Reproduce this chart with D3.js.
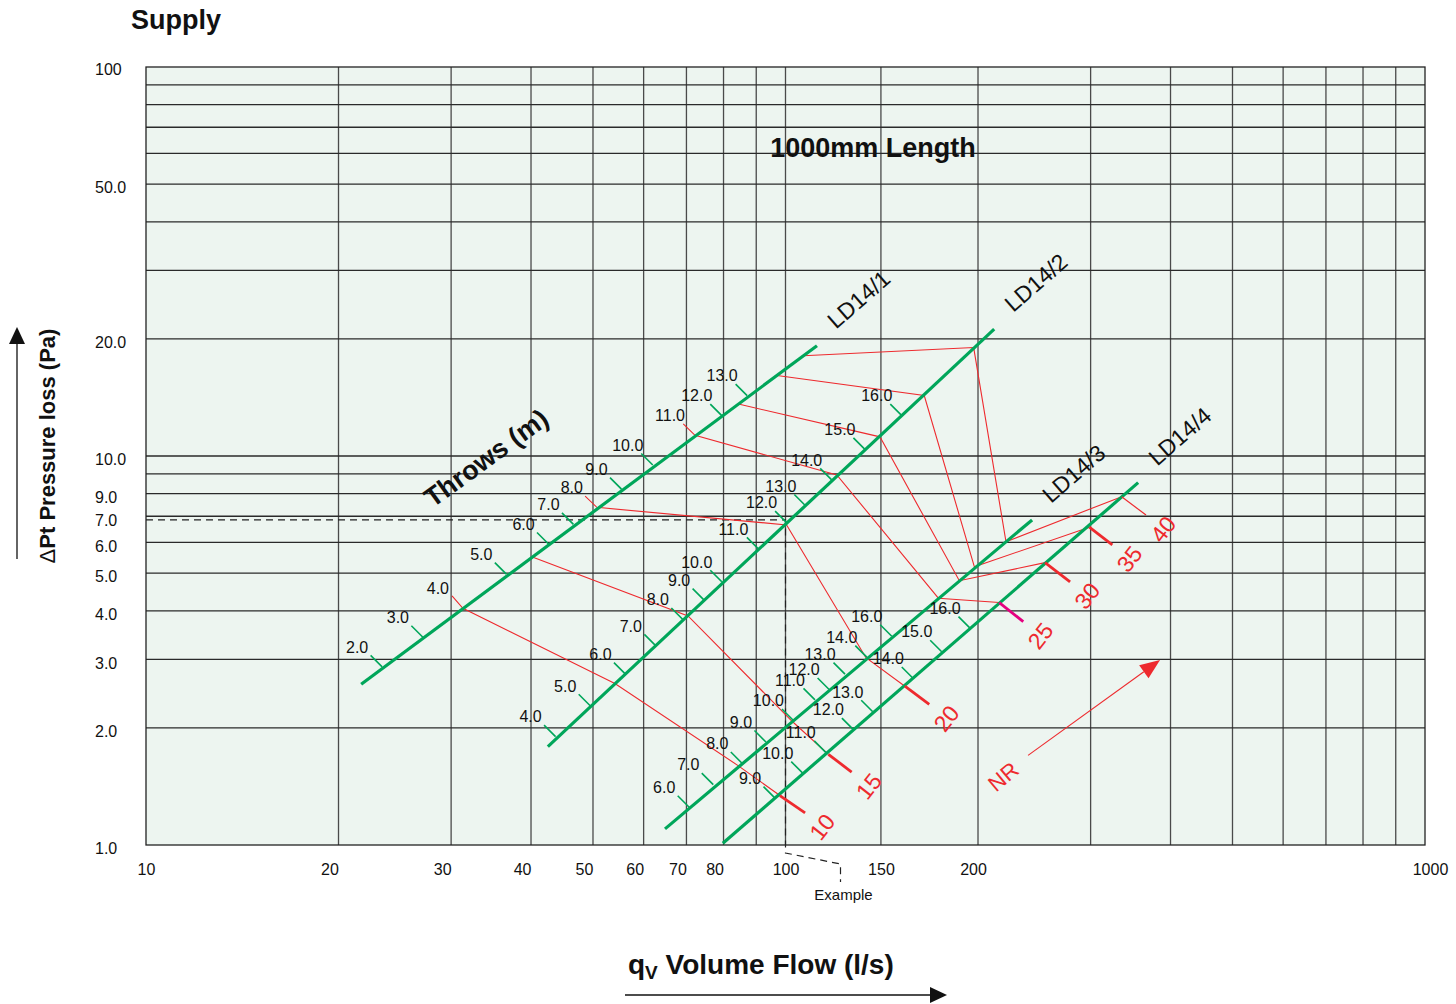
<!DOCTYPE html>
<html>
<head>
<meta charset="utf-8">
<script src="https://cdnjs.cloudflare.com/ajax/libs/d3/7.8.5/d3.min.js"></script>
<style>
body { margin: 0; background: #fff; }
text { font-family: "Liberation Sans", Arial, Helvetica, sans-serif; }
</style>
</head>
<body>
<svg id="chart" width="1456" height="1004"></svg>
<script>
// ---- data (flow l/s, pressure Pa) ----
var xGrid = [20, 30, 40, 50, 60, 70, 80, 90, 100, 141, 200, 300, 400, 500, 600, 700, 800, 900];
var yGrid = [2, 3, 4, 5, 6, 7, 8, 9, 10, 20, 30, 40, 50, 60, 70, 80, 90];
var xTickVals = [10, 20, 30, 40, 50, 60, 70, 80, 100, 141, 200, 1000];
var xTickText = ["10", "20", "30", "40", "50", "60", "70", "80", "100", "150", "200", "1000"];
var yTickVals = [1, 2, 3, 4, 5, 6, 7, 8, 10, 20, 50, 100];
var yTickText = ["1.0", "2.0", "3.0", "4.0", "5.0", "6.0", "7.0", "9.0", "10.0", "20.0", "50.0", "100"];

var ldNames = ["LD14/1", "LD14/2", "LD14/3", "LD14/4"];
var ldStart = [[21.7, 2.59], [42.5, 1.79], [64.8, 1.10], [79.8, 1.01]];
var ldEnd = [[112, 19.2], [212, 21.2], [243, 6.85], [356, 8.54]];

// throw (m), flow, pressure
var throwsLD1 = [[2, 23.4, 2.87], [3, 27.1, 3.42], [4, 31.3, 4.06], [5, 36.6, 4.97], [6, 42.6, 5.94], [7, 46.6, 6.67],
  [8, 50.7, 7.38], [9, 55.4, 8.22], [10, 62.0, 9.48], [11, 72.2, 11.3], [12, 79.5, 12.7], [13, 87.1, 14.3]];
var throwsLD2 = [[4, 43.7, 1.90], [5, 49.5, 2.28], [6, 56.2, 2.75], [7, 62.7, 3.25], [8, 69.1, 3.80], [9, 74.6, 4.26],
  [10, 79.5, 4.75], [11, 90.7, 5.77], [12, 100.4, 6.74], [13, 107.6, 7.44], [14, 118.1, 8.68], [15, 133.1, 10.4], [16, 152.0, 12.7]];
var throwsLD3 = [[6, 70.7, 1.25], [7, 77.1, 1.43], [8, 85.6, 1.62], [9, 93.2, 1.84], [10, 102.9, 2.09], [11, 111.2, 2.36],
  [12, 117.0, 2.51], [13, 123.9, 2.75], [14, 134.0, 3.04], [16, 146.6, 3.44]];
var throwsLD4 = [[9, 96.3, 1.32], [10, 106.4, 1.53], [11, 115.6, 1.73], [12, 127.7, 1.98], [13, 136.9, 2.20],
  [14, 158.4, 2.68], [15, 175.5, 3.14], [16, 194.3, 3.61]];
var redStartThrows = [4, 8, 11]; // on LD14/1 these throws carry the start of an NR line

// NR curves
var nrValues = [10, 15, 20, 25, 30, 35, 40];
var nr10 = [[30.1, 4.37], [31.3, 4.06], [54.1, 2.60], [84.3, 1.60], [98.0, 1.34]];
var nr15 = [[40.1, 5.51], [70.4, 3.88], [102.4, 2.08], [116.7, 1.71]];
var nr20 = [[48.6, 7.89], [50.7, 7.38], [100.4, 6.65], [133.6, 3.03], [153.7, 2.56]];
var nr25 = [[69.2, 12.1], [72.2, 11.3], [120.3, 8.94], [173.4, 4.31], [215.9, 4.20]];
var nr30 = [[84.4, 13.6], [140.5, 11.2], [187.0, 4.78], [254.6, 5.32]];
var nr35 = [[97.0, 16.1], [164.8, 14.3], [197.4, 5.19], [298.6, 6.56]];
var nr40 = [[106.6, 18.1], [196.9, 19.0], [221.2, 6.02], [335.5, 7.86]];
var nrTickEnds = [[107.3, 1.21], [126.9, 1.54], [167.8, 2.30], [235.4, 3.75], [278.6, 4.75], [324.4, 5.91], [366.2, 7.05]];
var nrArrow = [[239.5, 1.70], [385.2, 2.99]];

var example = [100, 6.85];

// ---- drawing ----
var svg = d3.select('#chart');
var pLeft = 146, pRight = 1425, pTop = 67, pBottom = 845;
var x = d3.scaleLog().domain([10, 1000]).range([pLeft, pRight]);
var y = d3.scaleLog().domain([1, 100]).range([pBottom, pTop]);
var green = '#00a65a', red = '#ee2a2e', magenta = '#e4007f';

svg.append('rect').attr('x', pLeft).attr('y', pTop).attr('width', pRight - pLeft).attr('height', pBottom - pTop)
  .attr('fill', '#edf5f0');

svg.selectAll('.vg').data(xGrid).enter().append('line')
  .attr('x1', d => x(d)).attr('x2', d => x(d)).attr('y1', pTop).attr('y2', pBottom)
  .attr('stroke', '#4a4a4a').attr('stroke-width', 1.3);
svg.selectAll('.hg').data(yGrid).enter().append('line')
  .attr('y1', d => y(d)).attr('y2', d => y(d)).attr('x1', pLeft).attr('x2', pRight)
  .attr('stroke', '#2a2a2a').attr('stroke-width', 1.3);
svg.append('rect').attr('x', pLeft).attr('y', pTop).attr('width', pRight - pLeft).attr('height', pBottom - pTop)
  .attr('fill', 'none').attr('stroke', '#222').attr('stroke-width', 1.3);

// axes (labels only)
var xAxis = d3.axisBottom(x).tickValues(xTickVals).tickFormat((d, i) => xTickText[i]).tickSize(0).tickPadding(0);
var gx = svg.append('g').attr('transform', 'translate(0,' + pBottom + ')').call(xAxis);
gx.select('.domain').remove();
gx.selectAll('text').attr('font-size', 16).attr('fill', '#111').attr('font-family', null)
  .attr('y', 24).attr('dy', '0.35em')
  .attr('dx', d => (d > 10 && d < 100) ? -9 : (d === 1000 ? 5 : (d === 200 ? -5 : 0)));

var yAxis = d3.axisLeft(y).tickValues(yTickVals).tickFormat((d, i) => yTickText[i]).tickSize(0).tickPadding(0);
var gy = svg.append('g').attr('transform', 'translate(' + pLeft + ',0)').call(yAxis);
gy.select('.domain').remove();
gy.selectAll('text').attr('font-size', 16).attr('fill', '#111').attr('font-family', null)
  .attr('text-anchor', 'start').attr('x', -51).attr('dy', d => d === 100 ? '0.45em' : '0.55em');

// example dashed lines
var ex = x(example[0]), ey = y(example[1]);
svg.append('path').attr('d', 'M' + pLeft + ',' + ey + 'H' + ex + 'V' + (pBottom + 8) + 'L' + (ex + 55) + ',' + (pBottom + 19) + 'V' + (pBottom + 37))
  .attr('fill', 'none').attr('stroke', '#222').attr('stroke-width', 1.2).attr('stroke-dasharray', '7,5');
svg.append('text').attr('x', ex + 58).attr('y', pBottom + 55).attr('text-anchor', 'middle')
  .attr('font-size', 15).attr('fill', '#111').text('Example');

// NR thin lines
var line = d3.line().x(d => x(d[0])).y(d => y(d[1]));
var nrSets = [nr10, nr15, nr20, nr25, nr30, nr35, nr40];
svg.selectAll('.nr').data(nrSets).enter().append('path')
  .attr('d', line).attr('fill', 'none').attr('stroke', red).attr('stroke-width', 1.1);

// LD lines
svg.selectAll('.ld').data(ldNames).enter().append('line')
  .attr('x1', (d, i) => x(ldStart[i][0])).attr('y1', (d, i) => y(ldStart[i][1]))
  .attr('x2', (d, i) => x(ldEnd[i][0])).attr('y2', (d, i) => y(ldEnd[i][1]))
  .attr('stroke', green).attr('stroke-width', 3.2);
svg.selectAll('.ldl').data(ldNames).enter().append('text')
  .attr('transform', (d, i) => 'translate(' + (x(ldEnd[i][0]) + 19) + ',' + (y(ldEnd[i][1]) - 16) + ') rotate(-41)')
  .attr('font-size', 23).attr('fill', '#111').text(d => d);

// throw ticks and labels
var fmt = d3.format('.1f');
[throwsLD1, throwsLD2, throwsLD3, throwsLD4].forEach(function (set, k) {
  var g = svg.append('g');
  set.forEach(function (t) {
    var px = x(t[1]), py = y(t[2]);
    if (!(k === 0 && redStartThrows.indexOf(t[0]) >= 0)) {
      g.append('line').attr('x1', px - 11.5).attr('y1', py - 11.5).attr('x2', px).attr('y2', py)
        .attr('stroke', green).attr('stroke-width', 1.6);
    }
    g.append('text').attr('x', px - 25).attr('y', py - 20).attr('dy', '0.36em').attr('text-anchor', 'middle')
      .attr('font-size', 16).attr('fill', '#111').text(fmt(t[0]));
  });
});

// NR end ticks and labels
nrValues.forEach(function (v, i) {
  var last = nrSets[i][nrSets[i].length - 1];
  var x1 = x(last[0]), y1 = y(last[1]), x2 = x(nrTickEnds[i][0]), y2 = y(nrTickEnds[i][1]);
  svg.append('line').attr('x1', x1).attr('y1', y1).attr('x2', x2).attr('y2', y2)
    .attr('stroke', v === 25 ? magenta : red).attr('stroke-width', v === 40 ? 1.2 : 2.8);
  svg.append('text').attr('transform', 'translate(' + (x2 + 17) + ',' + (y2 + 14) + ') rotate(-52)')
    .attr('text-anchor', 'middle').attr('dy', '0.36em').attr('font-size', 23).attr('fill', red).text(v);
});

// NR arrow
var a0 = [x(nrArrow[0][0]), y(nrArrow[0][1])], a1 = [x(nrArrow[1][0]), y(nrArrow[1][1])];
var ang = Math.atan2(a1[1] - a0[1], a1[0] - a0[0]);
var hl = 20, hw = 8;
var bx = a1[0] - hl * Math.cos(ang), by = a1[1] - hl * Math.sin(ang);
svg.append('line').attr('x1', a0[0]).attr('y1', a0[1]).attr('x2', bx).attr('y2', by)
  .attr('stroke', red).attr('stroke-width', 1.1);
svg.append('polygon').attr('fill', red).attr('points', [
  a1, [bx - hw * Math.sin(ang), by + hw * Math.cos(ang)], [bx + hw * Math.sin(ang), by - hw * Math.cos(ang)]
].map(p => p.join(',')).join(' '));
svg.append('text').attr('transform', 'translate(' + (a0[0] - 25) + ',' + (a0[1] + 21) + ') rotate(-40)')
  .attr('text-anchor', 'middle').attr('dy', '0.36em').attr('font-size', 22).attr('fill', red).text('NR');

// titles
svg.append('text').attr('x', 131).attr('y', 29).attr('font-size', 27).attr('font-weight', 'bold')
  .attr('fill', '#111').text('Supply');
svg.append('text').attr('x', x(137)).attr('y', y(62)).attr('dy', '0.36em').attr('text-anchor', 'middle')
  .attr('font-size', 27).attr('font-weight', 'bold').attr('fill', '#111').text('1000mm Length');
svg.append('text').attr('transform', 'translate(' + x(34) + ',' + y(9.9) + ') rotate(-36)')
  .attr('text-anchor', 'middle').attr('dy', '0.36em').attr('font-size', 27).attr('font-weight', 'bold')
  .attr('fill', '#111').text('Throws (m)');

var yt = svg.append('text').attr('transform', 'translate(47,446) rotate(-90)').attr('text-anchor', 'middle')
  .attr('dy', '0.36em').attr('font-size', 22).attr('font-weight', 'bold').attr('fill', '#111');
yt.append('tspan').attr('font-weight', 'normal').text('\u0394');
yt.append('tspan').text('Pt Pressure loss (Pa)');

var xt = svg.append('text').attr('x', 628).attr('y', 974).attr('font-size', 28).attr('font-weight', 'bold').attr('fill', '#111');
xt.append('tspan').text('q');
xt.append('tspan').attr('font-size', 19).attr('dy', 5).text('V');
xt.append('tspan').attr('dy', -5).text(' Volume Flow (l/s)');

// axis arrows
svg.append('line').attr('x1', 625).attr('y1', 995).attr('x2', 931).attr('y2', 995).attr('stroke', '#111').attr('stroke-width', 1.3);
svg.append('polygon').attr('points', '947,995 930,987 930,1003').attr('fill', '#111');
svg.append('line').attr('x1', 17).attr('y1', 559).attr('x2', 17).attr('y2', 342).attr('stroke', '#111').attr('stroke-width', 1.3);
svg.append('polygon').attr('points', '17,327 9,344 25,344').attr('fill', '#111');
</script>
</body>
</html>
